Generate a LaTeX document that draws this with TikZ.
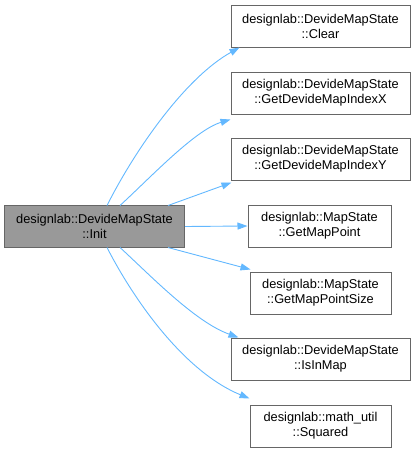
\documentclass[tikz,border=0pt]{standalone}
\usepackage{fontspec}
\setmainfont{Liberation Sans}
\usetikzlibrary{arrows.meta}
\definecolor{edgeblue}{HTML}{63B8FF}
\definecolor{boxborder}{HTML}{666666}
\definecolor{mainfill}{HTML}{999999}
\begin{document}
\begin{tikzpicture}[x=1pt,y=-1pt,
  fn/.style={draw=boxborder,line width=1pt,fill=white,rectangle,minimum height=42pt,inner sep=0pt,align=center,font=\fontsize{12.8}{15}\selectfont},
  mainnode/.style={fn,fill=mainfill},
  edge/.style={draw=edgeblue,line width=0.9pt,-{Triangle[length=10pt,width=7pt]}}]
\useasboundingbox (0,0) rectangle (415,453);
\node[mainnode,minimum width=180pt] (init) at (94.5,226.5) {designlab::DevideMapState\\::Init};
\node[fn,minimum width=179pt] (clear) at (320.5,26) {designlab::DevideMapState\\::Clear};
\node[fn,minimum width=179pt] (gx) at (320.5,93) {designlab::DevideMapState\\::GetDevideMapIndexX};
\node[fn,minimum width=179pt] (gy) at (320.5,159) {designlab::DevideMapState\\::GetDevideMapIndexY};
\node[fn,minimum width=143pt] (gmp) at (319.5,226) {designlab::MapState\\::GetMapPoint};
\node[fn,minimum width=141pt] (gmps) at (320.5,293) {designlab::MapState\\::GetMapPointSize};
\node[fn,minimum width=179pt] (inmap) at (320.5,359) {designlab::DevideMapState\\::IsInMap};
\node[fn,minimum width=141pt] (sq) at (320.5,426) {designlab::math\_util\\::Squared};
\coordinate (i1) at (107,205.5);
\coordinate (i2) at (120,205.5);
\coordinate (i3) at (168,205.5);
\coordinate (i5) at (168,247.5);
\coordinate (i6) at (120,247.5);
\coordinate (i7) at (107,247.5);
\draw[edge] (i1) .. controls (135,150) and (185,78) .. ([xshift=9pt]clear.south west);
\draw[edge] (i2) .. controls (150,178) and (195,130) .. ([yshift=-5pt]gx.south west);
\draw[edge] (i3) -- ([xshift=1pt,yshift=-2pt]gy.south west);
\draw[edge] (init.east) -- (gmp.west);
\draw[edge] (i5) -- ([xshift=1pt,yshift=2pt]gmps.north west);
\draw[edge] (i6) .. controls (150,275) and (195,322) .. ([xshift=8pt]inmap.north west);
\draw[edge] (i7) .. controls (135,302) and (185,372) .. ([yshift=6pt]sq.north west);
\end{tikzpicture}
\end{document}
